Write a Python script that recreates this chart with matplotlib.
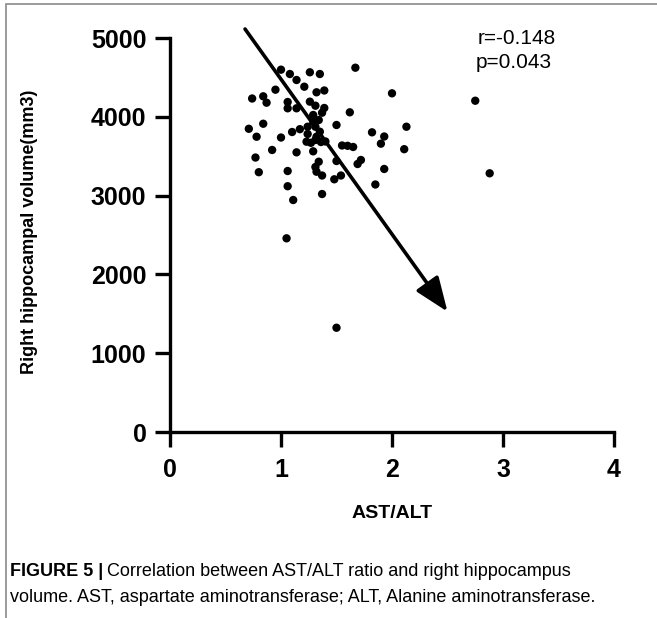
import matplotlib
matplotlib.use('Agg')
import matplotlib.pyplot as plt
import matplotlib.patches as patches

plt.rcParams['font.family'] = ['Liberation Sans', 'DejaVu Sans']

# AST/ALT ratio vs right hippocampal volume
ast_alt = [1.00, 1.08, 1.14, 1.26, 1.35, 1.21, 0.95, 0.74, 0.84, 0.87,
           1.06, 1.06, 1.14, 1.26, 1.32, 1.39, 1.31, 1.39, 1.37, 1.29,
           1.67, 2.00, 1.62, 2.75, 2.88, 0.71, 0.84, 0.78, 1.00, 1.10,
           1.17, 1.24, 1.24, 1.23, 1.34, 1.31, 1.35, 1.32, 1.31, 1.40,
           1.50, 1.55, 1.60, 1.65, 1.82, 1.93, 1.90, 2.13, 2.11, 0.92,
           1.14, 1.29, 0.77, 0.80, 1.06, 1.06, 1.11, 1.34, 1.31, 1.32,
           1.37, 1.50, 1.48, 1.54, 1.69, 1.72, 1.93, 1.85, 1.37, 1.05,
           1.50, 1.27, 1.36, 1.29]
volume = [4598, 4543, 4467, 4565, 4543, 4382, 4344, 4232, 4260, 4179,
          4188, 4108, 4108, 4192, 4311, 4334, 4141, 4112, 4052, 4023,
          4623, 4298, 4057, 4204, 3283, 3848, 3912, 3747, 3737, 3807,
          3843, 3874, 3782, 3684, 3959, 3874, 3811, 3747, 3706, 3687,
          3896, 3636, 3632, 3617, 3803, 3750, 3659, 3874, 3589, 3579,
          3549, 3562, 3483, 3297, 3312, 3119, 2944, 3430, 3363, 3303,
          3255, 3439, 3207, 3255, 3401, 3452, 3338, 3141, 3020, 2458,
          1323, 3670, 3680, 3940]

# trend arrow (start, end) in data units
arrow_start = (0.676, 5114)
arrow_end = (2.50, 1527)

x_ticks = [0, 1, 2, 3, 4]
y_ticks = [0, 1000, 2000, 3000, 4000, 5000]

W, H = 657, 618
fig = plt.figure(figsize=(W / 100, H / 100), dpi=100)
fig.patch.set_facecolor('white')

# outer frame of the figure panel
frame = patches.Rectangle((6 / W, -0.05), 1.0, 1 - 4 / H + 0.05, transform=fig.transFigure,
                          fill=False, edgecolor='#8a8a8a', linewidth=1.2, clip_on=False)
fig.add_artist(frame)

ax = fig.add_axes([170 / W, 186 / H, 444 / W, 394 / H])
ax.scatter(ast_alt, volume, s=36, color='black', edgecolors='none', zorder=3, clip_on=False)

arr = patches.FancyArrowPatch(arrow_start, arrow_end,
                              arrowstyle='-|>,head_length=1.4,head_width=0.55',
                              mutation_scale=15, color='black', linewidth=2.6,
                              shrinkA=0, shrinkB=0, clip_on=False, zorder=4)
ax.add_patch(arr)

ax.set_xlim(0, 4)
ax.set_ylim(0, 5000)
ax.set_xticks(x_ticks)
ax.set_yticks(y_ticks)
ax.set_xticklabels([str(t) for t in x_ticks], fontsize=18, fontweight='bold')
ax.set_yticklabels([str(t) for t in y_ticks], fontsize=18, fontweight='bold')
for s in ['top', 'right']:
    ax.spines[s].set_visible(False)
for s in ['left', 'bottom']:
    ax.spines[s].set_linewidth(2.4)
ax.tick_params(axis='both', direction='out', length=11, width=2.4)
ax.tick_params(axis='x', pad=8)
ax.tick_params(axis='y', pad=6)

fig.text(30 / W, 1 - 232 / H, 'Right hippocampal volume(mm3)', rotation=90,
         ha='center', va='center', fontsize=13, fontweight='bold')
fig.text(392 / W, 1 - 514 / H, 'AST/ALT', ha='center', va='center',
         fontsize=14, fontweight='bold')

fig.text(478 / W, 1 - 38 / H, 'r=-0.148', ha='left', va='center', fontsize=15)
fig.text(476 / W, 1 - 62 / H, 'p=0.043', ha='left', va='center', fontsize=15)

# caption: bold label followed by regular text on the same line
cap_size = 13
lab = fig.text(10 / W, 1 - 572 / H, 'FIGURE 5 |', ha='left', va='center',
               fontsize=cap_size, fontweight='bold')
renderer = fig.canvas.get_renderer()
bb = lab.get_window_extent(renderer=renderer)
fig.text((bb.x1 + 4) / W, 1 - 572 / H, 'Correlation between AST/ALT ratio and right hippocampus',
         ha='left', va='center', fontsize=cap_size)
fig.text(10 / W, 1 - 598 / H,
         'volume. AST, aspartate aminotransferase; ALT, Alanine aminotransferase.',
         ha='left', va='center', fontsize=cap_size)

fig.savefig('out.png', dpi=100)
